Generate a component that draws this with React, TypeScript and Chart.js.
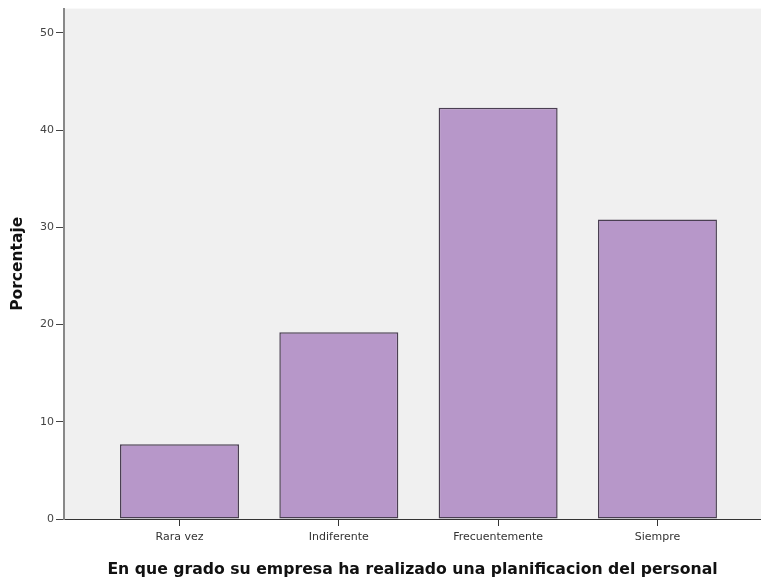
import React, { useEffect, useRef } from "react";
import { Chart, registerables } from "chart.js";

Chart.register(...registerables);

const categories = ["Rara vez", "Indiferente", "Frecuentemente", "Siempre"];
const percentages = [7.7, 19.2, 42.3, 30.8];
const yTicks = [0, 10, 20, 30, 40, 50];
const xTitle = "En que grado su empresa ha realizado una planificacion del personal";
const yTitle = "Porcentaje";

const plotBg = {
  id: "plotBg",
  beforeDraw(chart: any) {
    const { ctx, chartArea } = chart;
    ctx.save();
    ctx.fillStyle = "#f0f0f0";
    ctx.fillRect(chartArea.left, chartArea.top, chartArea.right - chartArea.left, chartArea.bottom - chartArea.top);
    ctx.restore();
  },
};

export default function App() {
  const ref = useRef<HTMLCanvasElement>(null);
  useEffect(() => {
    document.body.style.margin = "0";
    const chart = new Chart(ref.current!, {
      type: "bar",
      data: {
        datasets: [
          {
            data: percentages.map((v, i) => ({ x: i + 1, y: v })),
            backgroundColor: "#b797c9",
            borderColor: "#4a3f52",
            borderWidth: 1.5,
            borderSkipped: false,
            categoryPercentage: 1,
            barPercentage: 0.747,
          },
        ],
      },
      options: {
        animation: false,
        responsive: false,
        layout: { padding: { top: 8, right: 0, left: 0, bottom: 0 } },
        plugins: { legend: { display: false }, tooltip: { enabled: false } },
        scales: {
          x: {
            type: "linear",
            offset: false,
            min: 0.275,
            max: 4.65,
            afterBuildTicks: (s: any) => {
              s.ticks = categories.map((_, i) => ({ value: i + 1 }));
            },
            afterFit: (s: any) => {
              s.height = 60;
            },
            ticks: {
              autoSkip: false,
              maxRotation: 0,
              padding: 5,
              color: "#333",
              font: { family: "DejaVu Sans", size: 11 },
              callback: (v: any) => categories[Math.round(Number(v)) - 1] ?? "",
            },
            grid: { display: true, offset: false, drawOnChartArea: false, tickLength: 7, color: "#333" },
            border: { display: true, color: "#333", width: 1 },
            title: {
              display: true,
              text: xTitle,
              color: "#111",
              font: { family: "DejaVu Sans", size: 15.7, weight: "bold" },
              padding: { top: 2, bottom: 0 },
            },
          },
          y: {
            min: 0,
            max: 52.5,
            afterBuildTicks: (s: any) => {
              s.ticks = yTicks.map((v) => ({ value: v }));
            },
            afterFit: (s: any) => {
              s.width = 64;
            },
            ticks: {
              color: "#444",
              padding: 2,
              font: { family: "DejaVu Sans", size: 11 },
            },
            grid: { display: true, drawOnChartArea: false, tickLength: 8, color: "#444" },
            border: { display: true, color: "#888", width: 2 },
            title: {
              display: true,
              text: yTitle,
              color: "#111",
              font: { family: "DejaVu Sans", size: 15.5, weight: "bold" },
              padding: { top: 9, bottom: 0 },
            },
          },
        },
      },
      plugins: [plotBg],
    });
    return () => chart.destroy();
  }, []);
  return <canvas ref={ref} width={761} height={579} style={{ display: "block" }} />;
}
